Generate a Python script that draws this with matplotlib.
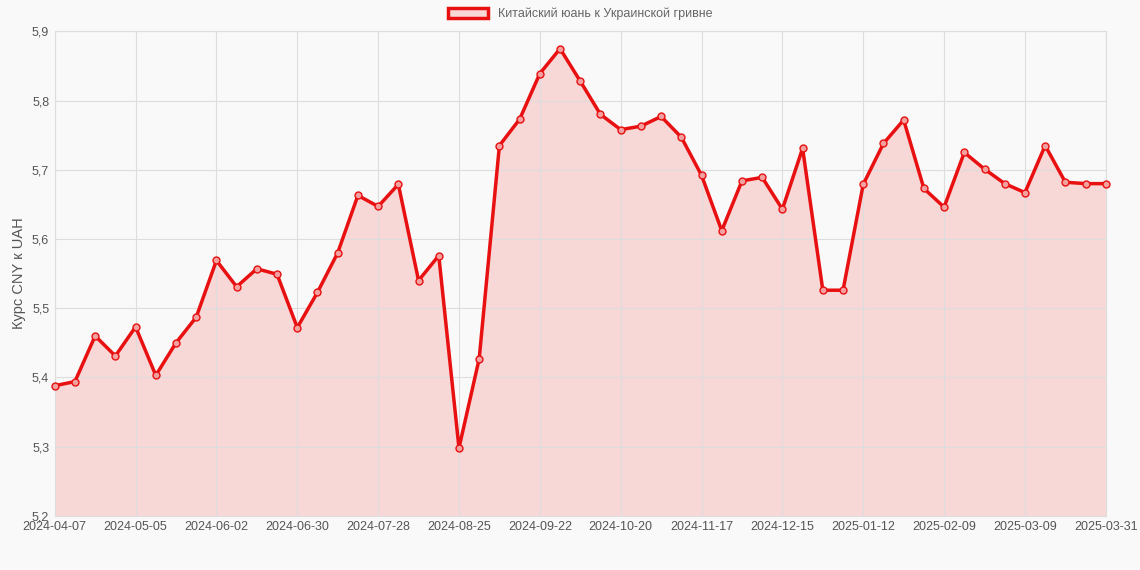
import matplotlib
matplotlib.use("Agg")
import matplotlib.pyplot as plt
from matplotlib.ticker import FuncFormatter

plt.rcParams["font.family"] = ["Liberation Sans", "DejaVu Sans"]

# weekly CNY/UAH rates
rates = [
    5.388, 5.394, 5.460, 5.431, 5.473, 5.403, 5.450, 5.487, 5.569, 5.531,
    5.557, 5.549, 5.472, 5.523, 5.580, 5.663, 5.647, 5.679, 5.540, 5.576,
    5.298, 5.427, 5.735, 5.773, 5.839, 5.875, 5.828, 5.780, 5.758, 5.763,
    5.777, 5.747, 5.692, 5.612, 5.684, 5.689, 5.643, 5.731, 5.526, 5.526,
    5.679, 5.738, 5.772, 5.673, 5.646, 5.725, 5.701, 5.680, 5.667, 5.735,
    5.682, 5.680, 5.680,
]
tick_pos = [0, 4, 8, 12, 16, 20, 24, 28, 32, 36, 40, 44, 48, 52]
tick_labels = [
    "2024-04-07", "2024-05-05", "2024-06-02", "2024-06-30", "2024-07-28",
    "2024-08-25", "2024-09-22", "2024-10-20", "2024-11-17", "2024-12-15",
    "2025-01-12", "2025-02-09", "2025-03-09", "2025-03-31",
]
label = "Китайский юань к Украинской гривне"

fig = plt.figure(figsize=(11.4, 5.7), dpi=100, facecolor="#f9f9f9")
ax = fig.add_axes([0.048, 0.095, 0.922, 0.85])
ax.set_facecolor("#f9f9f9")

x = list(range(len(rates)))
ax.fill_between(x, rates, 5.2, color="#f8d7d7", zorder=1)
ax.plot(x, rates, color="#e81010", linewidth=2.5, marker="o", markersize=5,
        markerfacecolor="#f3a0a0", markeredgecolor="#e81010", markeredgewidth=1,
        zorder=3, clip_on=False)

ax.set_xlim(0, len(rates) - 1)
ax.set_ylim(5.2, 5.9)
ax.set_xticks(tick_pos)
ax.set_xticklabels(tick_labels)
ax.set_yticks([5.2 + 0.1 * i for i in range(8)])
ax.yaxis.set_major_formatter(FuncFormatter(lambda v, p: f"{v:.1f}".replace(".", ",")))
ax.tick_params(labelsize=9, colors="#555555", length=0, pad=4)
ax.grid(True, color="#dddddd", linewidth=0.8, zorder=0)
for s in ax.spines.values():
    s.set_color("#dddddd")
ax.set_ylabel("Курс CNY к UAH", fontsize=10.5, color="#555555")

leg = ax.legend(handles=[plt.Rectangle((0, 0), 1, 1, facecolor="#f8d7d7",
                                       edgecolor="#e81010", linewidth=2.5)],
                labels=[label], loc="lower center", bbox_to_anchor=(0.5, 1.0),
                frameon=False, fontsize=9, handlelength=3.2, handleheight=0.9)
for t in leg.get_texts():
    t.set_color("#666666")

fig.savefig("out.png", dpi=100, facecolor=fig.get_facecolor())
